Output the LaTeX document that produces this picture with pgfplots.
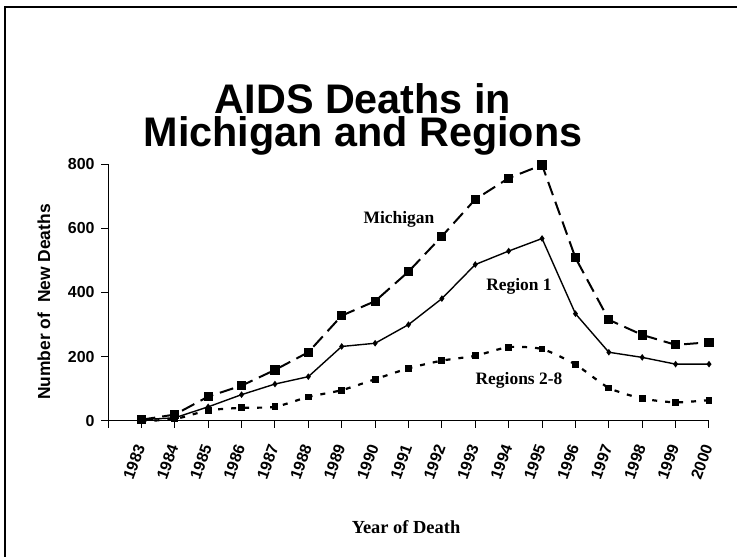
\documentclass[border=0pt]{standalone}
\usepackage{fontspec}
\setmainfont{Liberation Serif}
\newfontfamily\arial{Liberation Sans}
\usepackage{pgfplots}
\pgfplotsset{compat=1.18}

\pgfplotstableread{
year mich reg1 reg28
1983 4 4 0
1984 20 10 6
1985 76 44 33
1986 110 82 41
1987 159 115 44
1988 214 138 75
1989 328 232 96
1990 373 242 130
1991 465 300 164
1992 575 381 188
1993 690 487 203
1994 756 529 230
1995 797 568 224
1996 508 334 176
1997 315 214 103
1998 268 198 70
1999 237 177 58
2000 245 177 65
}\deaths

\begin{document}
\begin{tikzpicture}
\path[use as bounding box] (0,0) rectangle (737bp,557bp);
% frame (only left and top edges show in the crop)
\draw[line width=1.6bp] (5bp,0) -- (5bp,550bp) -- (737bp,550bp);

\node[font=\arial\bfseries\fontsize{41.5}{34}\selectfont, align=center, anchor=base]
  at (363bp,410bp) {AIDS Deaths in\\Michigan and Regions};

\begin{axis}[
  at={(108bp,136bp)}, anchor=south west,
  scale only axis, width=601bp, height=257bp,
  xmin=1982, xmax=2000, ymin=0, ymax=800,
  axis x line=bottom, axis y line=left,
  axis line style={-, line width=1bp},
  tick align=outside, major tick length=7bp,
  tick style={line width=1bp, black},
  xtick={1982,...,2000},
  xticklabels={,1983,1984,1985,1986,1987,1988,1989,1990,1991,1992,1993,1994,1995,1996,1997,1998,1999,2000},
  ytick={0,200,400,600,800},
  yticklabels={0,200,400,600,800},
  tick label style={font=\arial\bfseries\fontsize{16}{16}\selectfont},
  xticklabel style={rotate=70, anchor=east},
  xticklabel shift=14bp,
  yticklabel style={xshift=-3bp},
  clip=false,
]
\addplot[black, line width=2bp, dash pattern=on 14bp off 7bp,
  mark=square*, mark size=3.6bp, mark options={solid}]
  table[x=year, y=mich] {\deaths};
\addplot[black, line width=1.4bp,
  mark=diamond*, mark size=2.2bp, mark options={solid}]
  table[x=year, y=reg1] {\deaths};
\addplot[black, line width=2.2bp, dash pattern=on 5bp off 8bp, smooth, tension=0.4,
  mark=square*, mark size=2.3bp, mark options={solid}]
  table[x=year, y=reg28] {\deaths};
\end{axis}

\node[font=\bfseries\fontsize{17.5}{17.5}\selectfont] at (399bp,338bp) {Michigan};
\node[font=\bfseries\fontsize{17.5}{17.5}\selectfont] at (519bp,271bp) {Region 1};
\node[font=\bfseries\fontsize{17.5}{17.5}\selectfont] at (519bp,177bp) {Regions 2-8};
\node[font=\bfseries\fontsize{18.5}{18.5}\selectfont] at (406bp,30bp) {Year of Death};
\node[font=\arial\bfseries\fontsize{17.5}{17.5}\selectfont, rotate=90] at (44bp,255bp) {Number of~~New Deaths};
\end{tikzpicture}
\end{document}
